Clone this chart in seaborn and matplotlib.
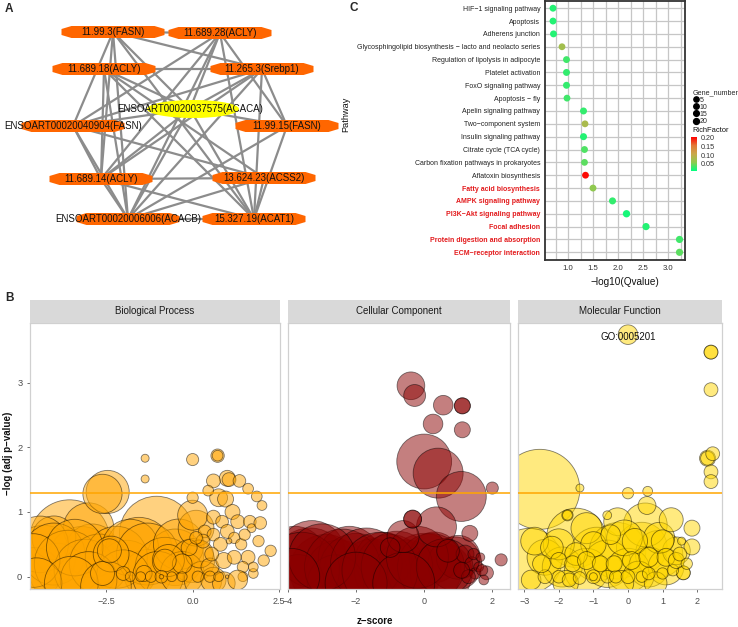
import numpy as np
import pandas as pd
import matplotlib
matplotlib.use("Agg")
import matplotlib.pyplot as plt
import seaborn as sns
from matplotlib.patches import Polygon, Ellipse
from matplotlib.colors import LinearSegmentedColormap, Normalize
from matplotlib.cm import ScalarMappable
from matplotlib.lines import Line2D

# ---------------- Panel A : network ----------------
node_labels = ["11.99.3(FASN)", "11.689.28(ACLY)", "11.689.18(ACLY)", "11.265.3(Srebp1)",
               "ENSOART00020037575(ACACA)", "ENSOART00020040904(FASN)", "11.99.15(FASN)",
               "11.689.14(ACLY)", "13.624.23(ACSS2)", "ENSOART00020006006(ACACB)", "15.327.19(ACAT1)"]
node_x = [113, 220, 104, 262, 190, 73, 287, 101, 264, 128, 254]
node_y = [32, 33, 69, 69, 109, 126, 126, 179, 178, 219, 219]
node_hub = [False, False, False, False, True, False, False, False, False, False, False]
edge_src = [0, 0, 0, 0, 0, 0, 0, 1, 1, 1, 1, 1, 1, 2, 2, 2, 2, 2, 2, 3, 3, 3, 3, 3, 3,
            4, 4, 4, 4, 4, 5, 5, 5, 6, 6, 7, 7, 7, 8, 8, 9]
edge_dst = [1, 3, 5, 7, 9, 4, 10, 4, 7, 9, 10, 6, 5, 3, 4, 7, 9, 8, 10, 5, 7, 9, 10, 6, 4,
            5, 6, 9, 10, 7, 7, 9, 8, 9, 10, 9, 10, 8, 9, 10, 10]

# ---------------- Panel C : KEGG dot plot ----------------
pathways = ["HIF\u22121 signaling pathway", "Apoptosis", "Adherens junction",
            "Glycosphingolipid biosynthesis \u2212 lacto and neolacto series",
            "Regulation of lipolysis in adipocyte", "Platelet activation", "FoxO signaling pathway",
            "Apoptosis \u2212 fly", "Apelin signaling pathway", "Two\u2212component system",
            "Insulin signaling pathway", "Citrate cycle (TCA cycle)",
            "Carbon fixation pathways in prokaryotes", "Aflatoxin biosynthesis",
            "Fatty acid biosynthesis", "AMPK signaling pathway", "PI3K\u2212Akt signaling pathway",
            "Focal adhesion", "Protein digestion and absorption", "ECM\u2212receptor interaction"]
qvalue = [0.70, 0.70, 0.71, 0.88, 0.97, 0.97, 0.97, 0.98, 1.31, 1.34,
          1.31, 1.33, 1.33, 1.35, 1.50, 1.89, 2.17, 2.56, 3.23, 3.23]
richfactor = [0.02, 0.02, 0.02, 0.075, 0.03, 0.025, 0.025, 0.03, 0.025, 0.08,
              0.02, 0.035, 0.04, 0.20, 0.06, 0.025, 0.015, 0.02, 0.03, 0.04]
gene_number = [3, 3, 3, 2, 3, 4, 4, 2, 4, 2, 5, 3, 2, 2, 3, 5, 9, 7, 7, 7]
highlight = [False] * 14 + [True] * 6
legend_genes = [5, 10, 15, 20]
rich_ticks = [0.05, 0.10, 0.15, 0.20]

# ---------------- Panel B : GO bubble plots ----------------
bp_z = [-3.55, -4.3, -3.2, -3.9, -4.55, -2.9, -3.0, -4.0, -1.04, -1.55, -1.9, -0.5, -1.3, -2.45, -2.6,
        -4.4, -4.0, -3.6, -3.1, -2.7, -2.2, -1.8, -1.3, -0.8, -0.4, 0.0, -4.6, -3.4, -2.0, -1.0, -3.0, 0.1,
        -4.5, -3.5, -2.5,
        -2.35, -0.3, 0.3, 0.0, -0.7, 0.2, 0.6, -2.6, 0.9,
        0.0, 0.72, 0.72, -1.37, -1.37, 1.0, 1.05, 0.6, 1.35, 1.6, 1.85, 2.0, 0.0, 0.75, 0.95, 0.45,
        1.15, 0.6, 0.85, 1.3, 1.65, 1.95, 1.7, 0.35, 0.6, 1.0, 1.2, 0.8, 1.4, 2.25, 2.05, 1.6, 1.45,
        1.45, 1.75, 1.75, 1.05, 1.0,
        -0.3, 0.5, 0.9, 1.2, -0.8, -2.4, 1.3, -2.0, -1.4,
        -1.8, -1.5, -1.2, -0.9, -0.9, -0.6, -0.3, 0.15, 0.5, 0.75,
        0.3, -0.1, 0.1, 1.5, 1.9, 0.55]
bp_logp = [0.57, 0.30, 0.25, 0.08, 0.05, 0.40, 0.75, 0.60, 0.67, 0.40, 0.10, 0.30, 0.05, 1.31, 1.28,
           0.50, 0.35, 0.20, 0.10, 0.20, 0.30, 0.45, 0.35, 0.15, 0.50, 0.25, 0.25, 0.45, 0.00, 0.00, -0.05, 0.75,
           -0.10, -0.10, -0.15,
           0.35, 0.05, -0.05, 0.95, 0.25, 0.35, -0.05, 0.05, -0.10,
           1.81, 1.87, 1.87, 1.83, 1.51, 1.52, 1.50, 1.48, 1.48, 1.36, 1.24, 1.10, 1.22, 1.22, 1.20, 1.33,
           1.00, 0.92, 0.85, 0.85, 0.85, 0.83, 0.75, 0.70, 0.65, 0.70, 0.60, 0.50, 0.50, 0.40, 0.25, 0.30, 0.15,
           0.00, 0.05, 0.15, 0.55, 0.00,
           0.20, 0.15, 0.25, 0.30, 0.25, 0.40, -0.05, 0.05, 0.05,
           0.00, 0.00, 0.00, 0.00, 0.00, 0.00, 0.00, 0.00, 0.00, 0.00,
           0.55, 0.45, 0.60, 0.65, 0.55, 0.35]
bp_count = [100, 64, 72, 50, 42, 45, 40, 30, 86, 70, 56, 50, 36, 29, 24,
            50, 60, 70, 60, 55, 60, 50, 60, 55, 40, 30, 45, 50, 45, 40, 50, 20,
            40, 45, 40,
            20, 30, 22, 14, 16, 12, 10, 9, 8,
            2.3, 2.8, 1.8, 1.0, 1.0, 4.0, 3.0, 3.0, 2.5, 1.8, 1.8, 1.5, 2.0, 5.0, 4.0, 1.8,
            3.5, 3.0, 2.5, 3.0, 2.5, 2.5, 1.2, 2.5, 2.5, 3.0, 2.0, 3.0, 2.0, 2.0, 2.0, 3.0, 2.0,
            1.5, 1.5, 1.5, 0.5, 0.2,
            6, 5, 4, 3, 8, 9, 6, 3, 4,
            1.5, 1.5, 2.0, 2.5, 0.3, 1.5, 1.5, 2.0, 2.0, 1.5,
            3, 4, 2.5, 2, 2, 3]

cc_z = [-3.35, -2.9, -3.8, -3.3, -2.5, -2.2, -2.0, -1.5, -1.2, -1.0, -0.5, 0.0, 0.3, 0.5, 0.9, 1.0,
        -3.7, -2.6,
        -3.6, -2.4, -1.7, -0.8, 0.2, -3.0, -1.3, -0.2, 0.6, -3.9, -2.0, -0.6,
        0.0, 0.41, 1.09, 0.36, -0.62, -0.39, -0.28, 0.56, 1.12, 1.12, 0.26, 1.12, 2.0, -0.34, -0.34,
        1.34, 2.26, 1.83, -1.0,
        1.2, 1.4, 1.5, 1.6, 1.3, 1.7, 1.75, 1.45, 1.1, 1.65, 0.7]
cc_logp = [0.15, 0.10, 0.30, 0.35, 0.05, 0.30, 0.10, 0.05, 0.25, 0.10, 0.05, 0.10, 0.30, 0.05, 0.20, 0.30,
           -0.05, -0.10,
           0.10, 0.15, 0.20, 0.15, 0.15, 0.30, 0.10, 0.30, 0.15, 0.00, -0.10, -0.10,
           1.78, 1.60, 1.24, 0.77, 0.62, 2.95, 2.80, 2.65, 2.64, 2.64, 2.36, 2.27, 1.37, 0.89, 0.89,
           0.67, 0.26, 0.06, 0.45,
           0.35, 0.20, 0.05, 0.15, 0.00, 0.10, -0.05, 0.35, 0.10, 0.30, 0.40]
cc_count = [95, 80, 60, 70, 70, 60, 85, 75, 50, 80, 70, 85, 40, 60, 45, 30,
            40, 50,
            90, 90, 80, 80, 70, 70, 90, 60, 50, 50, 60, 60,
            47, 39, 39, 25, 16, 12, 7.5, 6, 4, 4, 6, 4, 2.3, 5, 5,
            4, 2.3, 3, 6,
            5, 3, 2, 1.5, 3, 2, 1.5, 2, 4, 1.2, 8]

mf_z = [-2.55, -2.85, -1.5, -0.9, -0.3, 0.4, 0.9, 0.5, -0.3,
        -2.4, -1.9, -1.2, -0.6, 0.0, 0.6, 1.1, 1.4, -2.0, -0.1, 0.9, -1.2, 0.3, -2.7,
        -2.2, -1.0, 0.2, 1.0, -0.5, -1.5, 0.8, -0.2, -1.8, -2.8,
        1.25, 1.85, 1.85, 1.55, 1.6, 1.6,
        0.0, 2.4, 2.4, 2.4, 2.3, 2.3, 2.45, 2.4, 2.4,
        -1.39, 0.0, 0.57, 0.55, -1.75, -1.75, -0.6,
        -2.4, -2.0, -1.7, -1.4, -1.0, -1.0, -0.6, -0.35, 0.0, 0.4, 0.6, 1.0, 1.3,
        -2.5, -2.0, -1.6, -1.2, -0.8, -0.4, 0.1, 0.6, 1.1, 1.4, 1.5, 1.7]
mf_logp = [1.35, 0.25, 0.60, 0.35, 0.40, 0.45, 0.35, 0.80, 0.85,
           0.30, 0.15, 0.10, 0.20, 0.10, 0.15, 0.15, 0.40, 0.50, 0.60, 0.60, 0.75, 0.00, 0.55,
           0.45, 0.50, 0.55, 0.55, 0.65, 0.35, -0.10, -0.10, -0.10, -0.05,
           0.88, 0.75, 0.46, 0.55, 0.06, 0.06,
           3.74, 3.47, 3.47, 2.89, 1.83, 1.83, 1.90, 1.62, 1.47,
           1.37, 1.29, 1.32, 1.10, 0.95, 0.95, 0.95,
           0.00, 0.00, -0.05, -0.02, 0.00, 0.00, 0.00, 0.00, 0.00, 0.00, 0.05, 0.05, 0.10,
           0.20, 0.25, 0.20, 0.25, 0.20, 0.20, 0.25, 0.30, 0.30, 0.25, 0.35, 0.20]
mf_count = [100, 65, 55, 45, 50, 40, 35, 30, 12,
            20, 25, 30, 35, 30, 25, 20, 12, 15, 20, 15, 15, 15, 12,
            8, 10, 10, 8, 6, 8, 8, 10, 10, 6,
            9, 4, 4, 1.0, 3, 3,
            6, 3, 3, 3, 4, 3, 3, 3, 3,
            1.0, 2.0, 1.5, 5, 2.0, 1.5, 1.2,
            3, 2.5, 3, 2.5, 3, 1, 2.5, 2.5, 3, 2, 2.5, 2, 2,
            5, 4, 4, 5, 4, 4, 5, 6, 5, 4, 3, 2]

facet_names = ["Biological Process", "Cellular Component", "Molecular Function"]
facet_colors = ["#FFA500", "#8B0000", "#FFD700"]
threshold = 1.3
go_label = "GO:0005201"

# ---------------- figure ----------------
sns.set_theme(style="white")
plt.rcParams["font.family"] = ["Liberation Sans", "DejaVu Sans"]
plt.rcParams["axes.unicode_minus"] = True

W, H = 738, 627
fig = plt.figure(figsize=(W / 100, H / 100), dpi=100)


def rect(l, t, r, b):
    return [l / W, 1 - b / H, (r - l) / W, (b - t) / H]


def ftext(x, y, s, **kw):
    fig.text(x / W, 1 - y / H, s, **kw)


# ---- Panel A ----
axA = fig.add_axes(rect(0, 0, 345, 280))
axA.set_xlim(0, 345)
axA.set_ylim(280, 0)
axA.axis("off")
for s, d in zip(edge_src, edge_dst):
    axA.plot([node_x[s], node_x[d]], [node_y[s], node_y[d]], color="#8C8C8C", lw=1.6,
             zorder=1, solid_capstyle="butt")
for lab, x, y, hub in zip(node_labels, node_x, node_y, node_hub):
    if hub:
        axA.add_patch(Ellipse((x + 3, y), 92, 18, facecolor="#FFFF00", edgecolor="none", zorder=2))
    else:
        w, h, c = 103, 12, 10
        pts = [(x - w / 2, y - h / 4), (x - w / 2 + c, y - h / 2), (x + w / 2 - c, y - h / 2),
               (x + w / 2, y - h / 4), (x + w / 2, y + h / 4), (x + w / 2 - c, y + h / 2),
               (x - w / 2 + c, y + h / 2), (x - w / 2, y + h / 4)]
        axA.add_patch(Polygon(pts, closed=True, facecolor="#FF6600", edgecolor="none", zorder=2))
    axA.text(x, y, lab, ha="center", va="center", fontsize=7.0, color="#111111", zorder=3)

# ---- Panel C ----
axC = fig.add_axes(rect(545, 0.5, 685, 260))
dfc = pd.DataFrame({"Pathway": pathways, "Qvalue": qvalue, "RichFactor": richfactor,
                    "Gene_number": gene_number})
cmap = LinearSegmentedColormap.from_list(
    "rf", ["#00FF7F", "#8CCB50", "#C9A84A", "#E27A38", "#FF0000"])
rnorm = Normalize(0.007, 0.205)
sns.scatterplot(data=dfc, x="Qvalue", y="Pathway", hue="RichFactor", palette=cmap,
                hue_norm=rnorm, size="Gene_number", sizes=(24, 34), size_norm=(2, 20),
                edgecolor="none", legend=False, ax=axC, zorder=3)
axC.set_xlim(0.54, 3.34)
axC.set_ylim(len(pathways) - 0.4, -0.6)
axC.set_xticks([1.0, 1.5, 2.0, 2.5, 3.0])
axC.set_xticklabels(["1.0", "1.5", "2.0", "2.5", "3.0"])
axC.set_xticks(np.arange(0.75, 3.34, 0.5), minor=True)
axC.set_yticks(range(len(pathways)))
axC.set_yticklabels(pathways)
axC.grid(which="both", axis="both", color="#C6C6C6", lw=0.9)
axC.set_axisbelow(True)
for sp in axC.spines.values():
    sp.set_color("#333333")
    sp.set_linewidth(1.3)
axC.tick_params(axis="x", which="major", labelsize=5.6, length=2, width=0.6, color="#333333",
                labelcolor="#333333", pad=1.5)
axC.tick_params(axis="x", which="minor", length=0)
axC.tick_params(axis="y", labelsize=5.0, length=2, width=0.6, color="#333333", pad=1.5)
for lab, hl in zip(axC.get_yticklabels(), highlight):
    if hl:
        lab.set_color("#E31A1C")
        lab.set_fontweight("bold")
    else:
        lab.set_color("#222222")
axC.set_xlabel("")
axC.set_ylabel("")
ftext(625, 282, "\u2212log10(Qvalue)", ha="center", va="center", fontsize=7.2, color="#111111")
ftext(346, 114, "Pathway", ha="center", va="center", rotation=90, fontsize=6.6, color="#111111")

# legend: Gene_number
handles = [Line2D([], [], marker="o", linestyle="", color="black", markersize=3.8 + 0.15 * i)
           for i, g in enumerate(legend_genes)]
leg = fig.legend(handles, [str(g) for g in legend_genes], title="Gene_number",
                 loc="upper left", bbox_to_anchor=(689 / W, 1 - 86 / H), frameon=False,
                 fontsize=5.0, title_fontsize=5.1, handletextpad=0.0, labelspacing=0.02,
                 borderpad=0.0, handlelength=1.0, alignment="left")
# colorbar: RichFactor
ftext(692, 130, "RichFactor", ha="left", va="center", fontsize=5.4, color="#111111")
cax = fig.add_axes(rect(691, 137, 697, 171))
cb = fig.colorbar(ScalarMappable(norm=rnorm, cmap=cmap), cax=cax, ticks=rich_ticks)
cb.outline.set_visible(False)
cb.ax.tick_params(labelsize=5.2, length=1.5, color="white", pad=1, labelcolor="#333333")
cb.ax.set_yticklabels(["0.05", "0.10", "0.15", "0.20"])

# ---- Panel B ----
SMAX = 3318.0
facet_data = [(bp_z, bp_logp, bp_count), (cc_z, cc_logp, cc_count), (mf_z, mf_logp, mf_count)]
facet_xlim = [(-4.69, 2.52), (-3.99, 2.52), (-3.18, 2.71)]
facet_ticks = [[-2.5, 0.0, 2.5], [-4, -2, 0, 2], [-3, -2, -1, 0, 1, 2]]
facet_ticklabels = [["\u22122.5", "0.0", "2.5"], ["\u22124", "\u22122", "0", "2"],
                    ["\u22123", "\u22122", "\u22121", "0", "1", "2"]]
facet_px = [(30, 280), (288, 510), (518, 721.7)]

for i, (name, col, (z, lp, cnt), xl, tk, tkl, (l, r)) in enumerate(
        zip(facet_names, facet_colors, facet_data, facet_xlim, facet_ticks, facet_ticklabels, facet_px)):
    ax = fig.add_axes(rect(l, 323, r, 589))
    df = pd.DataFrame({"zscore": z, "logp": lp, "count": cnt})
    sns.scatterplot(data=df, x="zscore", y="logp", size="count", sizes=(0, SMAX),
                    size_norm=(0, 100), color=col, alpha=0.5, edgecolor="black",
                    linewidth=0.6, legend=False, ax=ax, zorder=2)
    ax.axhline(threshold, color="#FFA500", lw=1.1, zorder=3)
    ax.set_xlim(*xl)
    ax.set_ylim(-0.19, 3.92)
    ax.set_xticks(tk)
    ax.set_xticklabels(tkl)
    ax.set_xlabel("")
    ax.set_ylabel("")
    ax.set_facecolor("white")
    for sp in ax.spines.values():
        sp.set_color("#D0D0D0")
        sp.set_linewidth(0.9)
    ax.tick_params(axis="x", labelsize=6.5, length=2.5, width=0.6, color="#555555",
                   labelcolor="#4D4D4D", pad=3, bottom=True)
    if i == 0:
        ax.set_yticks([0, 1, 2, 3])
        ax.set_yticklabels(["0", "1", "2", "3"])
        ax.tick_params(axis="y", labelsize=6.7, length=2.5, width=0.6, color="#555555",
                       labelcolor="#4D4D4D", pad=3, left=True)
    else:
        ax.set_yticks([0, 1, 2, 3])
        ax.tick_params(axis="y", labelleft=False, length=0)
    if name == "Molecular Function":
        ax.text(0.0, 3.70, go_label, ha="center", va="center", fontsize=7, color="#111111", zorder=4)
    sax = fig.add_axes(rect(l, 300, r, 323))
    sax.set_facecolor("#D9D9D9")
    sax.set_xticks([])
    sax.set_yticks([])
    for sp in sax.spines.values():
        sp.set_visible(False)
    sax.text(0.5, 0.5, name, ha="center", va="center", fontsize=7, color="#1A1A1A",
             transform=sax.transAxes)

ftext(375, 621, "z\u2212score", ha="center", va="center", fontsize=7, fontweight="bold", color="#111111")
ftext(8, 453, "\u2212log (adj p\u2212value)", ha="center", va="center", rotation=90, fontsize=7,
      fontweight="bold", color="#111111")

# panel letters
ftext(9, 9, "A", ha="center", va="center", fontsize=8.5, fontweight="bold")
ftext(10, 298, "B", ha="center", va="center", fontsize=8.5, fontweight="bold")
ftext(354, 8, "C", ha="center", va="center", fontsize=8.5, fontweight="bold")

fig.savefig("out.png", dpi=100)
